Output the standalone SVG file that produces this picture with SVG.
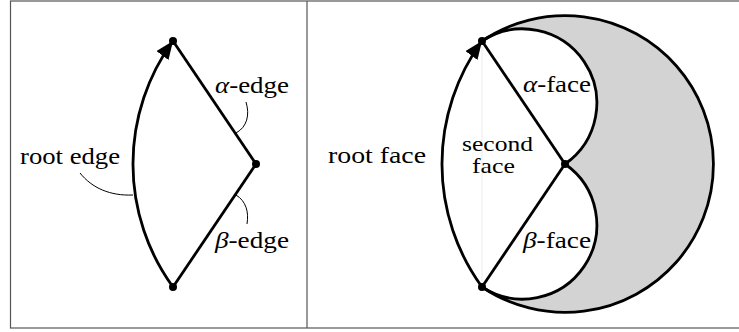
<svg xmlns="http://www.w3.org/2000/svg" width="739" height="332" viewBox="0 0 739 332">
<style>
.frame{fill:none;stroke:#555;stroke-width:1.2}
.edge{fill:none;stroke:#000;stroke-width:2.8}
.lead{fill:none;stroke:#000;stroke-width:1}
.node{fill:#000}
.lbl{font-family:"Liberation Serif","Times New Roman",serif;font-size:24px;fill:#000}
.sm{font-size:21px}
.it{font-style:italic}
</style>
<defs>
<marker id="arr" markerUnits="userSpaceOnUse" markerWidth="20" markerHeight="16" refX="18" refY="7.5" orient="auto" viewBox="0 0 20 16">
<path d="M0,0 L18,7.5 L0,15 Z" fill="#000"/>
</marker>
</defs>
<rect x="10.5" y="1" width="740" height="327" class="frame"/>
<line x1="307" y1="1" x2="307" y2="328" class="frame"/>

<g id="face-gray">
<path d="M482,41 A148.4,148.4 0 1 1 482,287 A74.2,74.2 0 0 0 565,164 A74.2,74.2 0 0 0 482,41 Z" fill="#d3d3d3" stroke="none"/>
<line x1="482" y1="41" x2="482" y2="287" stroke="#ececec" stroke-width="1"/>
</g>

<g id="connectors">
<path id="root-edge-left" class="edge" d="M173,287 A209,209 0 0 1 173,41" marker-end="url(#arr)"/>
<path id="alpha-edge-left" class="edge" d="M173,41 L256,164"/>
<path id="beta-edge-left" class="edge" d="M256,164 L173,287"/>
<path id="root-edge-right" class="edge" d="M482,287 A209,209 0 0 1 482,41" marker-end="url(#arr)"/>
<path id="alpha-edge-right" class="edge" d="M482,41 L565,164"/>
<path id="beta-edge-right" class="edge" d="M565,164 L482,287"/>
<path id="outer-circle" class="edge" d="M482,41 A148.4,148.4 0 1 1 482,287"/>
<path id="alpha-loop" class="edge" d="M565,164 A74.2,74.2 0 0 0 482,41"/>
<path id="beta-loop" class="edge" d="M482,287 A74.2,74.2 0 0 0 565,164"/>
<path class="lead" d="M80,173 C92,188 110,196 133,195"/>
<path class="lead" d="M246,102 C250,115 247,127 236,133"/>
<path class="lead" d="M236,195 C246,201 249,212 247,224"/>
</g>

<g id="node-left-top"><circle cx="173" cy="41" r="4" class="node"/></g>
<g id="node-left-mid"><circle cx="256" cy="164" r="4" class="node"/></g>
<g id="node-left-bot"><circle cx="173" cy="287" r="4" class="node"/></g>
<g id="node-right-top"><circle cx="482" cy="41" r="4" class="node"/></g>
<g id="node-right-mid"><circle cx="565" cy="164" r="4" class="node"/></g>
<g id="node-right-bot"><circle cx="482" cy="287" r="4" class="node"/></g>

<g id="labels">
<text class="lbl" x="20" y="164" textLength="100" lengthAdjust="spacingAndGlyphs">root edge</text>
<text class="lbl" x="215" y="93" textLength="74" lengthAdjust="spacingAndGlyphs"><tspan class="it">α</tspan>-edge</text>
<text class="lbl" x="215" y="248" textLength="74" lengthAdjust="spacingAndGlyphs"><tspan class="it">β</tspan>-edge</text>
<text class="lbl" x="328" y="163" textLength="98" lengthAdjust="spacingAndGlyphs">root face</text>
<text class="lbl sm" x="462" y="151" textLength="71" lengthAdjust="spacingAndGlyphs">second</text>
<text class="lbl sm" x="472" y="173" textLength="43" lengthAdjust="spacingAndGlyphs">face</text>
<text class="lbl" x="523" y="92" textLength="68" lengthAdjust="spacingAndGlyphs"><tspan class="it">α</tspan>-face</text>
<text class="lbl" x="523" y="248" textLength="68" lengthAdjust="spacingAndGlyphs"><tspan class="it">β</tspan>-face</text>
</g>
</svg>
